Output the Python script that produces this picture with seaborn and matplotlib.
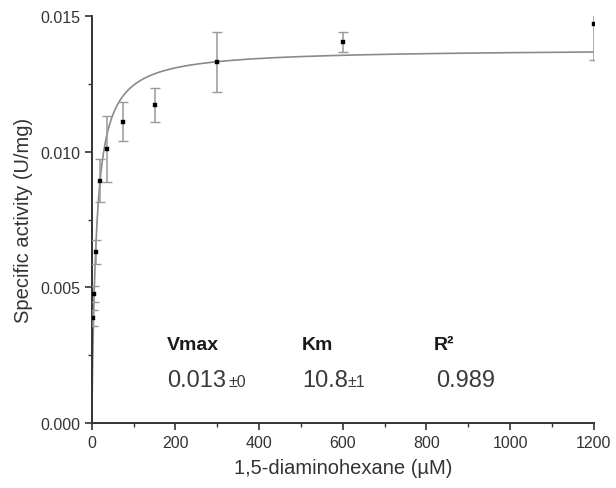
import numpy as np
import pandas as pd
import matplotlib
matplotlib.use("Agg")
import matplotlib.pyplot as plt
import seaborn as sns
from matplotlib.ticker import MultipleLocator

conc = [2.34, 4.69, 9.38, 18.75, 37.5, 75, 150, 300, 600, 1200]
activity = [0.00387, 0.00475, 0.00630, 0.00893, 0.01010, 0.01110, 0.01172, 0.01330, 0.01405, 0.01470]
err = [0.00030, 0.00030, 0.00045, 0.00080, 0.00120, 0.00072, 0.00062, 0.00110, 0.00036, 0.00130]
vmax_fit = 0.01380
km_fit = 10.8

df = pd.DataFrame({"conc": conc, "activity": activity, "err": err})

sns.set_theme(style="ticks")
plt.rcParams['font.family'] = ['Liberation Sans', 'DejaVu Sans']

fig = plt.figure(figsize=(6.16, 4.89), dpi=100)
ax = fig.add_axes([0.149, 0.133, 0.815, 0.832])

xs = np.linspace(0, 1200, 1200)
fit = pd.DataFrame({"x": xs, "y": vmax_fit * xs / (km_fit + xs)})
sns.lineplot(data=fit, x="x", y="y", ax=ax, color="#8a8a8a", lw=1.2)

ax.errorbar(df["conc"], df["activity"], yerr=df["err"], fmt="none",
            ecolor="#999999", elinewidth=1.1, capsize=3.5, capthick=1.0, zorder=3)
sns.scatterplot(data=df, x="conc", y="activity", ax=ax, marker="s", s=12,
                color="black", edgecolor="black", zorder=4)

ax.set_xlim(0, 1200)
ax.set_ylim(0, 0.015)
ax.xaxis.set_major_locator(MultipleLocator(200))
ax.xaxis.set_minor_locator(MultipleLocator(100))
ax.yaxis.set_major_locator(MultipleLocator(0.005))
ax.yaxis.set_minor_locator(MultipleLocator(0.0025))
ax.yaxis.set_major_formatter(matplotlib.ticker.FormatStrFormatter("%.3f"))
ax.tick_params(which="major", direction="out", length=5, width=1.2, labelsize=11.5, color="#333333", labelcolor="#333333")
ax.tick_params(which="minor", direction="out", length=3, width=1.0, color="#333333")
for s in ["top", "right"]:
    ax.spines[s].set_visible(False)
for s in ["left", "bottom"]:
    ax.spines[s].set_linewidth(1.4)
    ax.spines[s].set_color("#333333")

ax.set_xlabel("1,5-diaminohexane (µM)", fontsize=14.5, color="#333333", labelpad=6)
ax.set_ylabel("Specific activity (U/mg)", fontsize=14.5, color="#333333", labelpad=5)

ax.text(179, 0.00273, "Vmax", fontsize=14, fontweight="bold", color="#1a1a1a", ha="left", va="baseline")
ax.text(502, 0.00273, "Km", fontsize=14, fontweight="bold", color="#1a1a1a", ha="left", va="baseline")
ax.text(818, 0.00273, "R²", fontsize=14, fontweight="bold", color="#1a1a1a", ha="left", va="baseline")
ax.text(179, 0.00136, "0.013", fontsize=17, color="#3a3a3a", ha="left", va="baseline")
ax.text(327, 0.00136, "±0", fontsize=11.5, color="#3a3a3a", ha="left", va="baseline")
ax.text(502, 0.00136, "10.8", fontsize=17, color="#3a3a3a", ha="left", va="baseline")
ax.text(612, 0.00136, "±1", fontsize=11.5, color="#3a3a3a", ha="left", va="baseline")
ax.text(822, 0.00136, "0.989", fontsize=17, color="#3a3a3a", ha="left", va="baseline")

fig.savefig("out.png", dpi=100)
